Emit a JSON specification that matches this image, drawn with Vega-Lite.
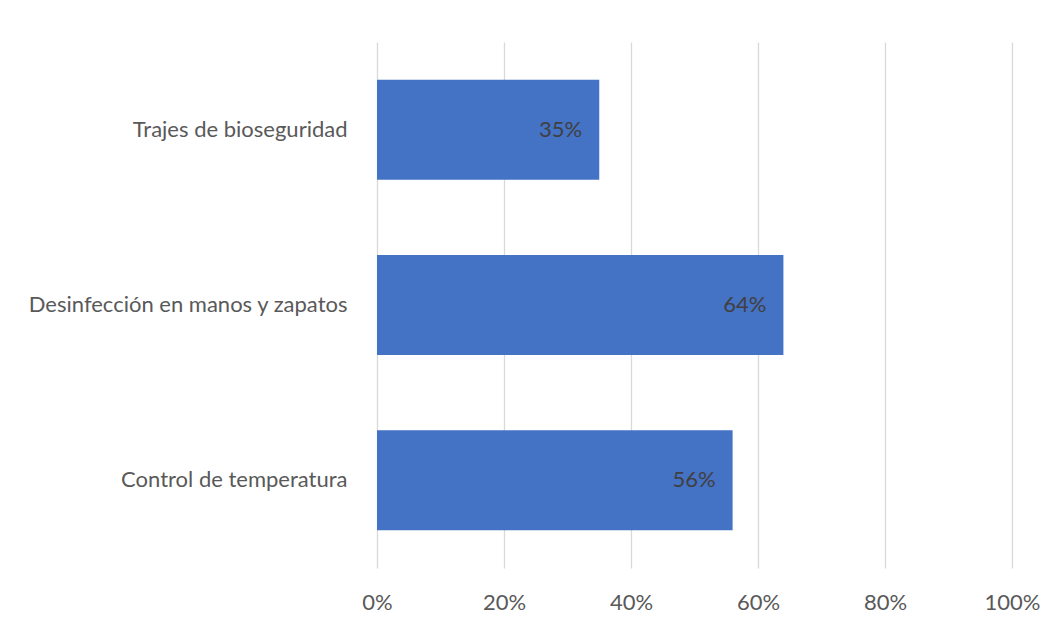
{
  "$schema": "https://vega.github.io/schema/vega-lite/v6.json",
  "width": 635,
  "height": 526,
  "autosize": {"type": "none"},
  "padding": {"left": 377, "top": 42, "right": 48, "bottom": 54},
  "background": "white",
  "config": {"view": {"stroke": null}, "font": "Lato"},
  "data": {
    "values": [
      {"medida": "Trajes de bioseguridad", "pct": 0.35},
      {"medida": "Desinfección en manos y zapatos", "pct": 0.64},
      {"medida": "Control de temperatura", "pct": 0.56}
    ]
  },
  "encoding": {
    "y": {
      "field": "medida",
      "type": "nominal",
      "sort": null,
      "scale": {"paddingInner": 0.43, "paddingOuter": 0.215},
      "axis": {
        "title": null,
        "ticks": false,
        "domain": false,
        "labelFontSize": 22,
        "labelColor": "#595959",
        "labelPadding": 30,
        "labelLimit": 400
      }
    },
    "x": {
      "field": "pct",
      "type": "quantitative",
      "scale": {"domain": [0, 1]},
      "axis": {
        "title": null,
        "format": ".0%",
        "values": [0, 0.2, 0.4, 0.6, 0.8, 1],
        "grid": true,
        "gridColor": "#D9D9D9",
        "gridWidth": 1.3,
        "domain": false,
        "ticks": false,
        "labelFlush": false,
        "labelFontSize": 22,
        "labelColor": "#595959",
        "labelBaseline": "middle",
        "labelPadding": 34
      }
    }
  },
  "layer": [
    {"mark": {"type": "bar", "color": "#4472C4"}},
    {
      "mark": {"type": "text", "align": "right", "baseline": "middle", "dx": -17, "fontSize": 22, "color": "#404040"},
      "encoding": {"text": {"field": "pct", "type": "quantitative", "format": ".0%"}}
    }
  ]
}
